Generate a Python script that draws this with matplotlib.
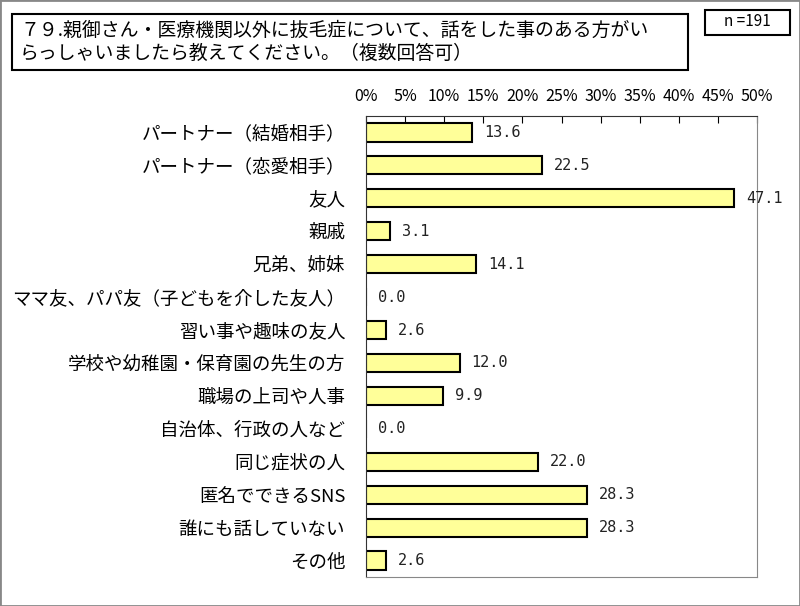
import matplotlib.pyplot as plt
from matplotlib.patches import Rectangle

plt.rcParams['font.family'] = ['Noto Sans CJK JP', 'DejaVu Sans']

# data
categories = ['パートナー（結婚相手）', 'パートナー（恋愛相手）', '友人', '親戚', '兄弟、姉妹',
              'ママ友、パパ友（子どもを介した友人）', '習い事や趣味の友人', '学校や幼稚園・保育園の先生の方',
              '職場の上司や人事', '自治体、行政の人など', '同じ症状の人', '匿名でできるSNS',
              '誰にも話していない', 'その他']
values = [13.6, 22.5, 47.1, 3.1, 14.1, 0.0, 2.6, 12.0, 9.9, 0.0, 22.0, 28.3, 28.3, 2.6]
ticks = [0, 5, 10, 15, 20, 25, 30, 35, 40, 45, 50]
title = '７９.親御さん・医療機関以外に抜毛症について、話をした事のある方がい\nらっしゃいましたら教えてください。（複数回答可）'
n_text = 'n =191'

fig = plt.figure(figsize=(8, 6.06), dpi=100)
ax = fig.add_axes([366 / 800, 1 - 577 / 606, 391 / 800, 461 / 606])

y = range(len(categories))
ax.barh(y, values, height=0.55, color='#ffff99', edgecolor='black', linewidth=1.5)
for yi, v in zip(y, values):
    ax.text(v + 1.5, yi, f'{v:.1f}', va='center', ha='left', fontsize=11,
            family='DejaVu Sans Mono', color='#222222')

ax.set_xlim(0, 50)
ax.set_ylim(len(categories) - 0.5, -0.5)
ax.set_yticks(list(y))
ax.set_yticklabels(categories, fontsize=13.3)
ax.tick_params(axis='y', length=0, pad=15)
ax.xaxis.tick_top()
ax.set_xticks(ticks)
ax.set_xticklabels([f'{t}%' for t in ticks], fontsize=11.5)
ax.tick_params(axis='x', direction='in', length=5, pad=8, width=0.8)
for s in ['right', 'bottom']:
    ax.spines[s].set_color('#888888')
ax.spines['left'].set_color('#333333')
ax.spines['top'].set_color('#333333')

# title box
fig.patches.append(Rectangle((12 / 800, 1 - 70 / 606), 676 / 800, 56 / 606, transform=fig.transFigure,
                             fill=False, edgecolor='black', linewidth=1.5))
fig.text(20 / 800, 1 - 42 / 606, title, fontsize=13.6, va='center', ha='left', linespacing=1.15)

# n box
fig.patches.append(Rectangle((705 / 800, 1 - 35 / 606), 85 / 800, 25 / 606, transform=fig.transFigure,
                             fill=False, edgecolor='black', linewidth=1.5))
fig.text(747 / 800, 1 - 22 / 606, n_text, fontsize=11, va='center', ha='center')

# outer border
fig.patches.append(Rectangle((0, 0), 1, 1, transform=fig.transFigure,
                             fill=False, edgecolor='#888888', linewidth=2))

fig.savefig('out.png', dpi=100)
